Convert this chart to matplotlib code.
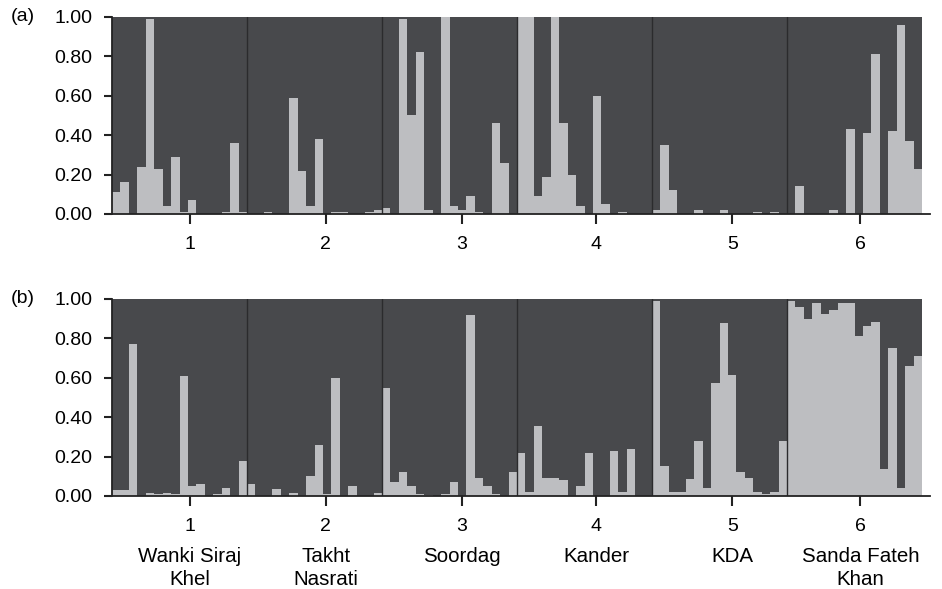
import matplotlib
matplotlib.use("Agg")
import matplotlib.pyplot as plt
import numpy as np

plt.rcParams['font.family'] = ['Liberation Sans', 'DejaVu Sans']

# membership coefficient of the light cluster, 16 individuals per population
pop_numbers = ['1', '2', '3', '4', '5', '6']
pop_names = ['Wanki Siraj\nKhel', 'Takht\nNasrati', 'Soordag', 'Kander', 'KDA',
             'Sanda Fateh\nKhan']

q_a = [
    [0.11, 0.16, 0.0, 0.24, 0.99, 0.23, 0.04, 0.29, 0.01, 0.07, 0.0, 0.0, 0.0, 0.01, 0.36, 0.01],
    [0.0, 0.0, 0.01, 0.0, 0.0, 0.59, 0.22, 0.04, 0.38, 0.0, 0.01, 0.01, 0.0, 0.0, 0.01, 0.02],
    [0.03, 0.0, 0.99, 0.50, 0.82, 0.02, 0.0, 1.00, 0.04, 0.02, 0.09, 0.01, 0.0, 0.46, 0.26, 0.0],
    [1.00, 1.00, 0.09, 0.19, 1.00, 0.46, 0.20, 0.04, 0.0, 0.60, 0.05, 0.0, 0.01, 0.0, 0.0, 0.0],
    [0.02, 0.35, 0.12, 0.0, 0.0, 0.02, 0.0, 0.0, 0.02, 0.0, 0.0, 0.0, 0.01, 0.0, 0.01, 0.0],
    [0.0, 0.14, 0.0, 0.0, 0.0, 0.02, 0.0, 0.43, 0.0, 0.41, 0.81, 0.0, 0.42, 0.96, 0.37, 0.23],
]

q_b = [
    [0.03, 0.03, 0.77, 0.0, 0.015, 0.01, 0.015, 0.01, 0.61, 0.05, 0.06, 0.0, 0.01, 0.04, 0.0, 0.18],
    [0.06, 0.0, 0.0, 0.035, 0.0, 0.015, 0.0, 0.10, 0.26, 0.01, 0.60, 0.0, 0.05, 0.0, 0.0, 0.015],
    [0.55, 0.07, 0.12, 0.05, 0.01, 0.005, 0.0, 0.01, 0.07, 0.0, 0.92, 0.09, 0.05, 0.01, 0.0, 0.12],
    [0.22, 0.02, 0.355, 0.09, 0.09, 0.08, 0.0, 0.05, 0.22, 0.0, 0.0, 0.23, 0.02, 0.24, 0.0, 0.0],
    [0.99, 0.15, 0.02, 0.02, 0.085, 0.28, 0.04, 0.575, 0.88, 0.615, 0.12, 0.09, 0.02, 0.01, 0.02, 0.28],
    [0.99, 0.96, 0.90, 0.98, 0.925, 0.945, 0.98, 0.98, 0.81, 0.865, 0.885, 0.135, 0.75, 0.04, 0.66, 0.71],
]

yticks = [0.0, 0.2, 0.4, 0.6, 0.8, 1.0]
tick_pos = [9.25, 25.35, 41.45, 57.4, 73.5, 88.7]

LIGHT = '#bdbec1'
DARK = '#48494c'
LINE = '#2b2b2d'
FS = 14

fig = plt.figure(figsize=(9.42, 5.89), dpi=100)
ax_a = fig.add_axes([0.1189, 0.6367, 0.8684, 0.3345])
ax_b = fig.add_axes([0.1189, 0.1579, 0.8684, 0.3345])


def draw_panel(ax, groups, letter):
    q = np.concatenate([np.array(g) for g in groups])
    n = len(q)
    edges = np.arange(n + 1)
    # dark cluster fills the rest of each column, light one drawn as a step area
    ax.axvspan(0, n, color=DARK, linewidth=0, zorder=0)
    ax.fill_between(edges, 0, np.append(q, q[-1]), step='post', color=LIGHT,
                    linewidth=0, zorder=1)
    size = len(groups[0])
    for k in range(1, len(groups)):
        ax.axvline(k * size, color=LINE, linewidth=1.0, zorder=2)
    ax.set_xlim(0, n + 0.95)
    ax.set_ylim(0, 1.0)
    ax.spines['top'].set_visible(False)
    ax.spines['right'].set_visible(False)
    for s in ['left', 'bottom']:
        ax.spines[s].set_linewidth(1.3)
        ax.spines[s].set_color('#222222')
    ax.set_yticks(yticks)
    ax.set_yticklabels(['%.2f' % v for v in yticks])
    ax.set_xticks(tick_pos)
    ax.set_xticklabels(pop_numbers)
    ax.tick_params(axis='y', length=6, width=1.5, labelsize=FS, pad=8, color='#222222')
    ax.tick_params(axis='x', length=7, width=1.5, labelsize=FS, pad=9, color='#222222')
    fig.text(0.011, ax.get_position().y1, letter, fontsize=FS, va='center', ha='left')


draw_panel(ax_a, q_a, '(a)')
draw_panel(ax_b, q_b, '(b)')

for pos, name in zip(tick_pos, pop_names):
    ax_b.text(pos, -0.26, name, ha='center', va='top', fontsize=14.8,
              linespacing=1.22, transform=ax_b.get_xaxis_transform())

fig.savefig('out.png', dpi=100)
